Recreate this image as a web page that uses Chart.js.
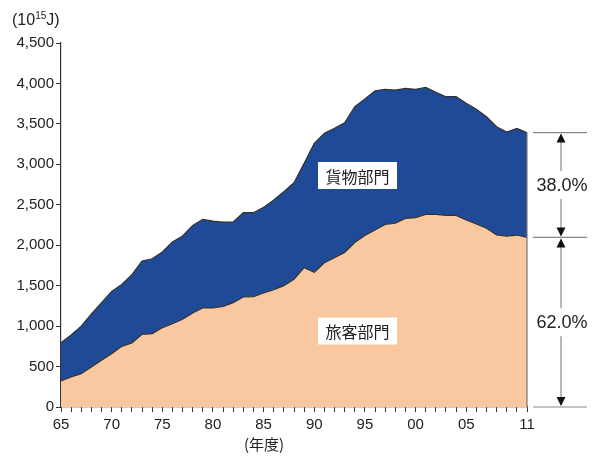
<!DOCTYPE html>
<html>
<head>
<meta charset="utf-8">
<script src="https://cdn.jsdelivr.net/npm/chart.js@4.4.0/dist/chart.umd.min.js"></script>
<style>
  html, body { margin: 0; padding: 0; background: #fff; }
  #wrap { width: 600px; height: 458px; position: relative; }
</style>
</head>
<body>
<div id="wrap"><canvas id="chart" width="600" height="458"></canvas></div>
<script>
const years = [1965, 1966, 1967, 1968, 1969, 1970, 1971, 1972, 1973, 1974,
  1975, 1976, 1977, 1978, 1979, 1980, 1981, 1982, 1983, 1984,
  1985, 1986, 1987, 1988, 1989, 1990, 1991, 1992, 1993, 1994,
  1995, 1996, 1997, 1998, 1999, 2000, 2001, 2002, 2003, 2004,
  2005, 2006, 2007, 2008, 2009, 2010, 2011];

// 旅客部門 (bottom area)
const passenger = [321, 371, 412, 494, 577, 659, 750, 791, 898, 906,
  980, 1030, 1084, 1162, 1224, 1224, 1244, 1290, 1360, 1364,
  1409, 1450, 1500, 1578, 1722, 1665, 1784, 1845, 1911, 2033,
  2120, 2188, 2256, 2274, 2332, 2340, 2381, 2381, 2369, 2369,
  2311, 2262, 2209, 2126, 2113, 2126, 2097];

// 旅客 + 貨物 (top line)
const total = [795, 890, 1000, 1150, 1290, 1430, 1516, 1636, 1805, 1833,
  1916, 2040, 2114, 2245, 2320, 2299, 2287, 2287, 2402, 2402,
  2468, 2559, 2661, 2772, 3012, 3259, 3383, 3445, 3514, 3712,
  3807, 3910, 3927, 3918, 3939, 3927, 3951, 3890, 3836, 3836,
  3754, 3680, 3588, 3465, 3400, 3445, 3392];

const xLabels = { 1965: '65', 1970: '70', 1975: '75', 1980: '80', 1985: '85',
  1990: '90', 1995: '95', 2000: '00', 2005: '05', 2011: '11' };
const shares = ['38.0%', '62.0%'];
const areaLabels = ['貨物部門', '旅客部門'];

const FONT = '"Liberation Sans", Arial, sans-serif';
const JP = '"Noto Sans CJK JP", sans-serif';

const overlay = {
  id: 'overlay',
  afterDraw(chart) {
    const ctx = chart.ctx;
    const x = chart.scales.x, y = chart.scales.y;
    const last = years.length - 1;
    const xr = x.getPixelForValue(years[last]);
    const yTop = y.getPixelForValue(total[last]);
    const yMid = y.getPixelForValue(passenger[last]);
    const yBot = y.getPixelForValue(0);
    ctx.save();

    // right edge of area
    ctx.strokeStyle = '#777';
    ctx.lineWidth = 1.2;
    ctx.beginPath();
    ctx.moveTo(xr, yTop); ctx.lineTo(xr, yBot);
    ctx.stroke();

    // bracket lines
    ctx.strokeStyle = '#888';
    ctx.lineWidth = 1.2;
    [yTop, yMid, yBot].forEach(v => {
      ctx.beginPath();
      ctx.moveTo(xr + 6, v); ctx.lineTo(xr + 60, v);
      ctx.stroke();
    });

    const ax = xr + 34;
    const arrow = (tipY, dir) => {
      ctx.fillStyle = '#111';
      ctx.beginPath();
      ctx.moveTo(ax, tipY);
      ctx.lineTo(ax - 4.5, tipY + dir * 9);
      ctx.lineTo(ax + 4.5, tipY + dir * 9);
      ctx.closePath();
      ctx.fill();
    };
    const segment = (a, b, label) => {
      const c = (a + b) / 2;
      ctx.strokeStyle = '#888';
      ctx.beginPath();
      ctx.moveTo(ax, a + 2); ctx.lineTo(ax, c - 14);
      ctx.moveTo(ax, c + 14); ctx.lineTo(ax, b - 2);
      ctx.stroke();
      arrow(a + 1, 1);
      arrow(b - 1, -1);
      ctx.fillStyle = '#222';
      ctx.font = '18px ' + FONT;
      ctx.textAlign = 'center';
      ctx.textBaseline = 'middle';
      ctx.fillText(label, ax + 1, c + 1);
    };
    segment(yTop, yMid, shares[0]);
    segment(yMid, yBot, shares[1]);

    // area labels in white boxes
    const box = (cx, cy, text) => {
      ctx.fillStyle = '#fff';
      ctx.fillRect(cx - 39.5, cy - 13.5, 79, 27);
      ctx.fillStyle = '#222';
      ctx.font = '16px ' + JP;
      ctx.textAlign = 'center';
      ctx.textBaseline = 'middle';
      ctx.fillText(text, cx, cy + 1);
    };
    box(357.5, 175.5, areaLabels[0]);
    box(357.5, 331, areaLabels[1]);

    // unit and year caption
    ctx.fillStyle = '#222';
    ctx.textBaseline = 'alphabetic';
    ctx.textAlign = 'left';
    ctx.font = '16px ' + FONT;
    let px = 12;
    ctx.fillText('(10', px, 25);
    px += ctx.measureText('(10').width;
    ctx.font = '10px ' + FONT;
    ctx.fillText('15', px, 19);
    px += ctx.measureText('15').width;
    ctx.font = '16px ' + FONT;
    ctx.fillText('J)', px, 25);

    ctx.font = '15px ' + JP;
    ctx.textAlign = 'center';
    ctx.textBaseline = 'middle';
    ctx.fillText('(年度)', 264, 444);
    ctx.restore();
  }
};

new Chart(document.getElementById('chart'), {
  type: 'line',
  data: {
    datasets: [
      {
        label: '旅客部門',
        data: years.map((yr, i) => ({ x: yr, y: passenger[i] })),
        borderColor: '#333',
        borderWidth: 1.2,
        backgroundColor: '#F9C8A0',
        fill: 'origin',
        pointRadius: 0,
        tension: 0,
      },
      {
        label: '貨物部門',
        data: years.map((yr, i) => ({ x: yr, y: total[i] })),
        borderColor: '#333',
        borderWidth: 1.2,
        backgroundColor: '#1F4A98',
        fill: '-1',
        pointRadius: 0,
        tension: 0,
      },
    ],
  },
  options: {
    responsive: false,
    animation: false,
    events: [],
    layout: { padding: { left: 0, right: 73, top: 43, bottom: 0 } },
    plugins: { legend: { display: false }, tooltip: { enabled: false } },
    scales: {
      x: {
        type: 'linear',
        min: 1965,
        max: 2011,
        afterFit: (s) => { s.height = 51; },
        border: { display: true, color: '#333', width: 1.2 },
        grid: { drawOnChartArea: false, drawTicks: true, tickLength: 5, color: '#333', lineWidth: 1 },
        ticks: {
          stepSize: 1,
          autoSkip: false,
          maxRotation: 0,
          padding: 4,
          color: '#222',
          font: { family: FONT, size: 15 },
          callback: (v) => xLabels[v] || '',
        },
      },
      y: {
        min: 0,
        max: 4500,
        afterFit: (s) => { s.width = 61; },
        border: { display: true, color: '#333', width: 1.2 },
        grid: { drawOnChartArea: false, drawTicks: true, tickLength: 5, color: '#333', lineWidth: 1 },
        ticks: {
          stepSize: 500,
          padding: 2,
          color: '#222',
          font: { family: FONT, size: 15 },
          callback: (v) => v.toLocaleString('en-US'),
        },
      },
    },
  },
  plugins: [overlay],
});
</script>
</body>
</html>
